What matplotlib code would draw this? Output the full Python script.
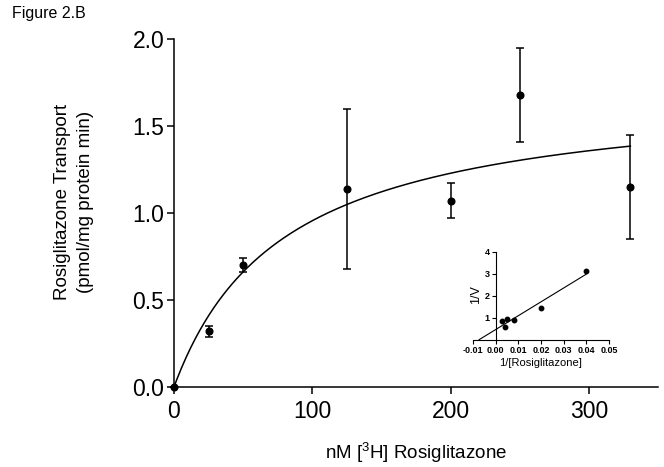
import numpy as np
import matplotlib
matplotlib.use("Agg")
from matplotlib import pyplot as plt

plt.rcParams['font.family'] = ['Liberation Sans', 'DejaVu Sans']
plt.rcParams['mathtext.fontset'] = 'custom'
plt.rcParams['mathtext.rm'] = 'Liberation Sans'
plt.rcParams['mathtext.it'] = 'Liberation Sans:italic'

# substrate concentration (nM) and transport rate (pmol/mg protein min)
conc = [0, 25, 50, 125, 200, 250, 330]
rate = [0.0, 0.32, 0.70, 1.14, 1.07, 1.68, 1.15]
rate_err = [0.0, 0.03, 0.04, 0.46, 0.10, 0.27, 0.30]

# fitted Michaelis-Menten curve
vmax = 1.72
km = 80.0

# Lineweaver-Burk fit line for the inset (1/V = a + b * 1/S)
lb_intercept = 0.46
lb_slope = 63.0

fig = plt.figure(figsize=(6.64, 4.67), dpi=100)
ax = fig.add_axes([0.262, 0.1713, 0.729, 0.7452])

s = np.linspace(0, conc[-1], 300)
ax.plot(s, vmax * s / (km + s), color='black', lw=1.1)
ax.errorbar(conc, rate, yerr=rate_err, fmt='o', color='black', ms=4.8,
            capsize=3, elinewidth=1.1, capthick=1.1, clip_on=False, zorder=3)

ax.set_xlim(0, 350)
ax.set_ylim(0, 2.0)
ax.set_xticks([0, 100, 200, 300])
ax.set_yticks([0, 0.5, 1.0, 1.5, 2.0])
ax.set_yticklabels(['0.0', '0.5', '1.0', '1.5', '2.0'])
ax.spines['top'].set_visible(False)
ax.spines['right'].set_visible(False)
for sp in ax.spines.values():
    sp.set_linewidth(1.1)
ax.tick_params(direction='out', length=5, width=1.1, labelsize=16.5, pad=2)
ax.tick_params(axis='x', pad=4)
ax.set_xlabel('nM [$^3$H] Rosiglitazone', fontsize=13.5, labelpad=13)
ax.set_ylabel('Rosiglitazone Transport\n(pmol/mg protein min)', fontsize=13.5,
              linespacing=1.45)
ax.yaxis.set_label_coords(-0.165, 0.532)

fig.text(12 / 664, 1 - 6 / 467, 'Figure 2.B', fontsize=11.5, va='top', ha='left')

# inset: double reciprocal plot
inv_s = [1.0 / c for c in conc[1:]]
inv_v = [1.0 / v for v in rate[1:]]

ins = fig.add_axes([0.7123, 0.2726, 0.2048, 0.1884])
ins.patch.set_alpha(0)
x0 = -lb_intercept / lb_slope
lx = np.array([x0, 0.04])
ins.plot(lx, lb_intercept + lb_slope * lx, color='black', lw=0.8)
ins.plot(inv_s, inv_v, 'o', color='black', ms=3.2)
ins.set_xlim(-0.01, 0.05)
ins.set_ylim(0, 4)
ins.spines['top'].set_visible(False)
ins.spines['right'].set_visible(False)
ins.spines['left'].set_position(('data', 0))
for sp in ins.spines.values():
    sp.set_linewidth(0.8)
ins.set_xticks([-0.01, 0.0, 0.01, 0.02, 0.03, 0.04, 0.05])
ins.set_xticklabels(['-0.01', '0.00', '0.01', '0.02', '0.03', '0.04', '0.05'])
ins.set_yticks([1, 2, 3, 4])
ins.tick_params(direction='out', length=3, width=0.8, labelsize=6.5, pad=1.5)
for lab in ins.get_xticklabels() + ins.get_yticklabels():
    lab.set_fontweight('bold')
ins.set_xlabel('1/[Rosiglitazone]', fontsize=8, labelpad=2)
ins.text(-0.0088, 2.03, '1/V', rotation=90, fontsize=9, ha='center', va='center')

fig.savefig('out.png', dpi=100)
